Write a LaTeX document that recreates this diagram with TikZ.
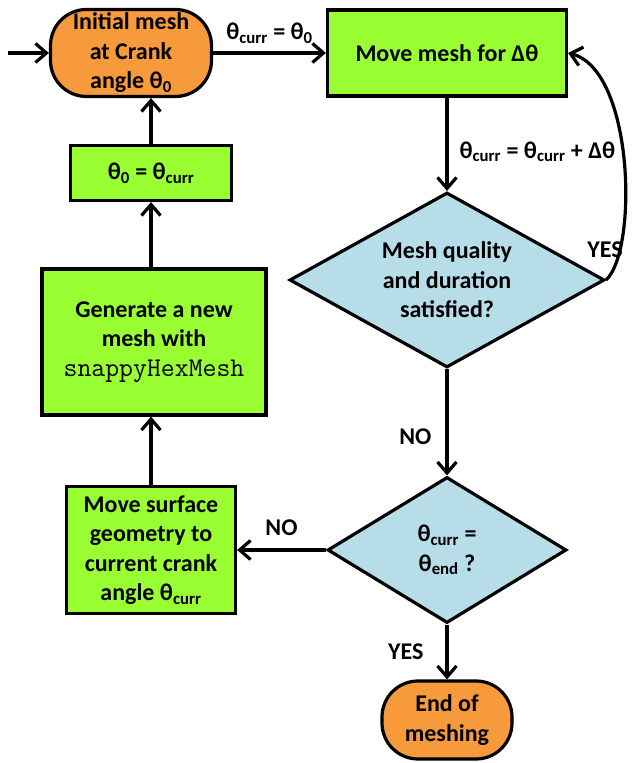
\documentclass[tikz,border=0pt]{standalone}
\usepackage{fontspec}
\setmainfont{Carlito}
\usetikzlibrary{arrows.meta,positioning,shapes.geometric}
\definecolor{limebox}{HTML}{99FF33}
\definecolor{orangecap}{HTML}{F79A3B}
\definecolor{paleblue}{HTML}{B7DDE8}
\newcommand{\thsub}[1]{θ\textsubscript{#1}}

\begin{document}
\begin{tikzpicture}[
  x=1pt, y=1pt, line width=3.2pt,
  font=\bfseries\fontsize{24}{29.5}\selectfont,
  box/.style={draw,fill=limebox,align=center,inner sep=0pt},
  capsule/.style={draw,fill=orangecap,rounded corners=36pt,align=center,inner sep=0pt},
  test/.style={diamond,draw,fill=paleblue,align=center,inner sep=0pt,aspect=1.8},
  ar/.style={-{Straight Barb[length=11pt,width=19pt]}},
  lbl/.style={inner sep=1pt}
]
\useasboundingbox (0,0) rectangle (635,763);
\node[capsule,minimum width=161pt,minimum height=87pt] (init) at (131,710) {Initial mesh\\at Crank\\angle \thsub{0}};
\node[box,minimum width=239pt,minimum height=86pt] (move) at (447,710) {Move mesh for Δθ};
\node[test,minimum width=315pt,minimum height=175pt] (q1) at (447,483) {Mesh quality\\and duration\\satisfied?};
\node[test,minimum width=239pt,minimum height=146pt] (q2) at (447,213) {\thsub{curr} =\\\thsub{end} ?};
\node[capsule,minimum width=130pt,minimum height=78pt] (endn) at (447,43) {End of\\meshing};
\node[box,minimum width=169pt,minimum height=127pt] (surf) at (151,213) {Move surface\\geometry to\\current crank\\angle \thsub{curr}};
\node[box,minimum width=224pt,minimum height=146pt] (gen) at (154,421) {Generate a new\\mesh with\\{\mdseries\ttfamily\fontsize{27}{29.5}\selectfont snappyHexMesh}};
\node[box,minimum width=161pt,minimum height=55pt] (th0) at (151,590) {\thsub{0} = \thsub{curr}};
\coordinate (start) at (8,710);

% main loop
\draw[ar] (start) -- (init);
\draw[ar] (init) -- node[lbl,above=7pt] {\thsub{curr} = \thsub{0}} (move);
\draw[ar] (move) -- node[lbl,pos=0.58,right=10pt] {\thsub{curr} = \thsub{curr} + Δθ} (q1);
\draw[ar] (q1.east) .. controls +(32,30) and +(66,-17) .. (move.east);
\node[lbl] at (605,513) {YES};
\draw[ar] (q1.south) -- node[lbl,pos=0.64,left=13pt] {NO} (q2.north);
\draw[ar] (q2.south) -- node[lbl,left=21pt] {YES} (endn.north);

% remesh branch
\draw[ar] (q2.west) -- node[lbl,above=12pt] {NO} (surf.east);
\draw[ar] (surf.north) -- (surf.north |- gen.south);
\draw[ar] (gen.north -| th0.south) -- (th0.south);
\draw[ar] (th0.north) -- (th0.north |- init.south);
\end{tikzpicture}
\end{document}
